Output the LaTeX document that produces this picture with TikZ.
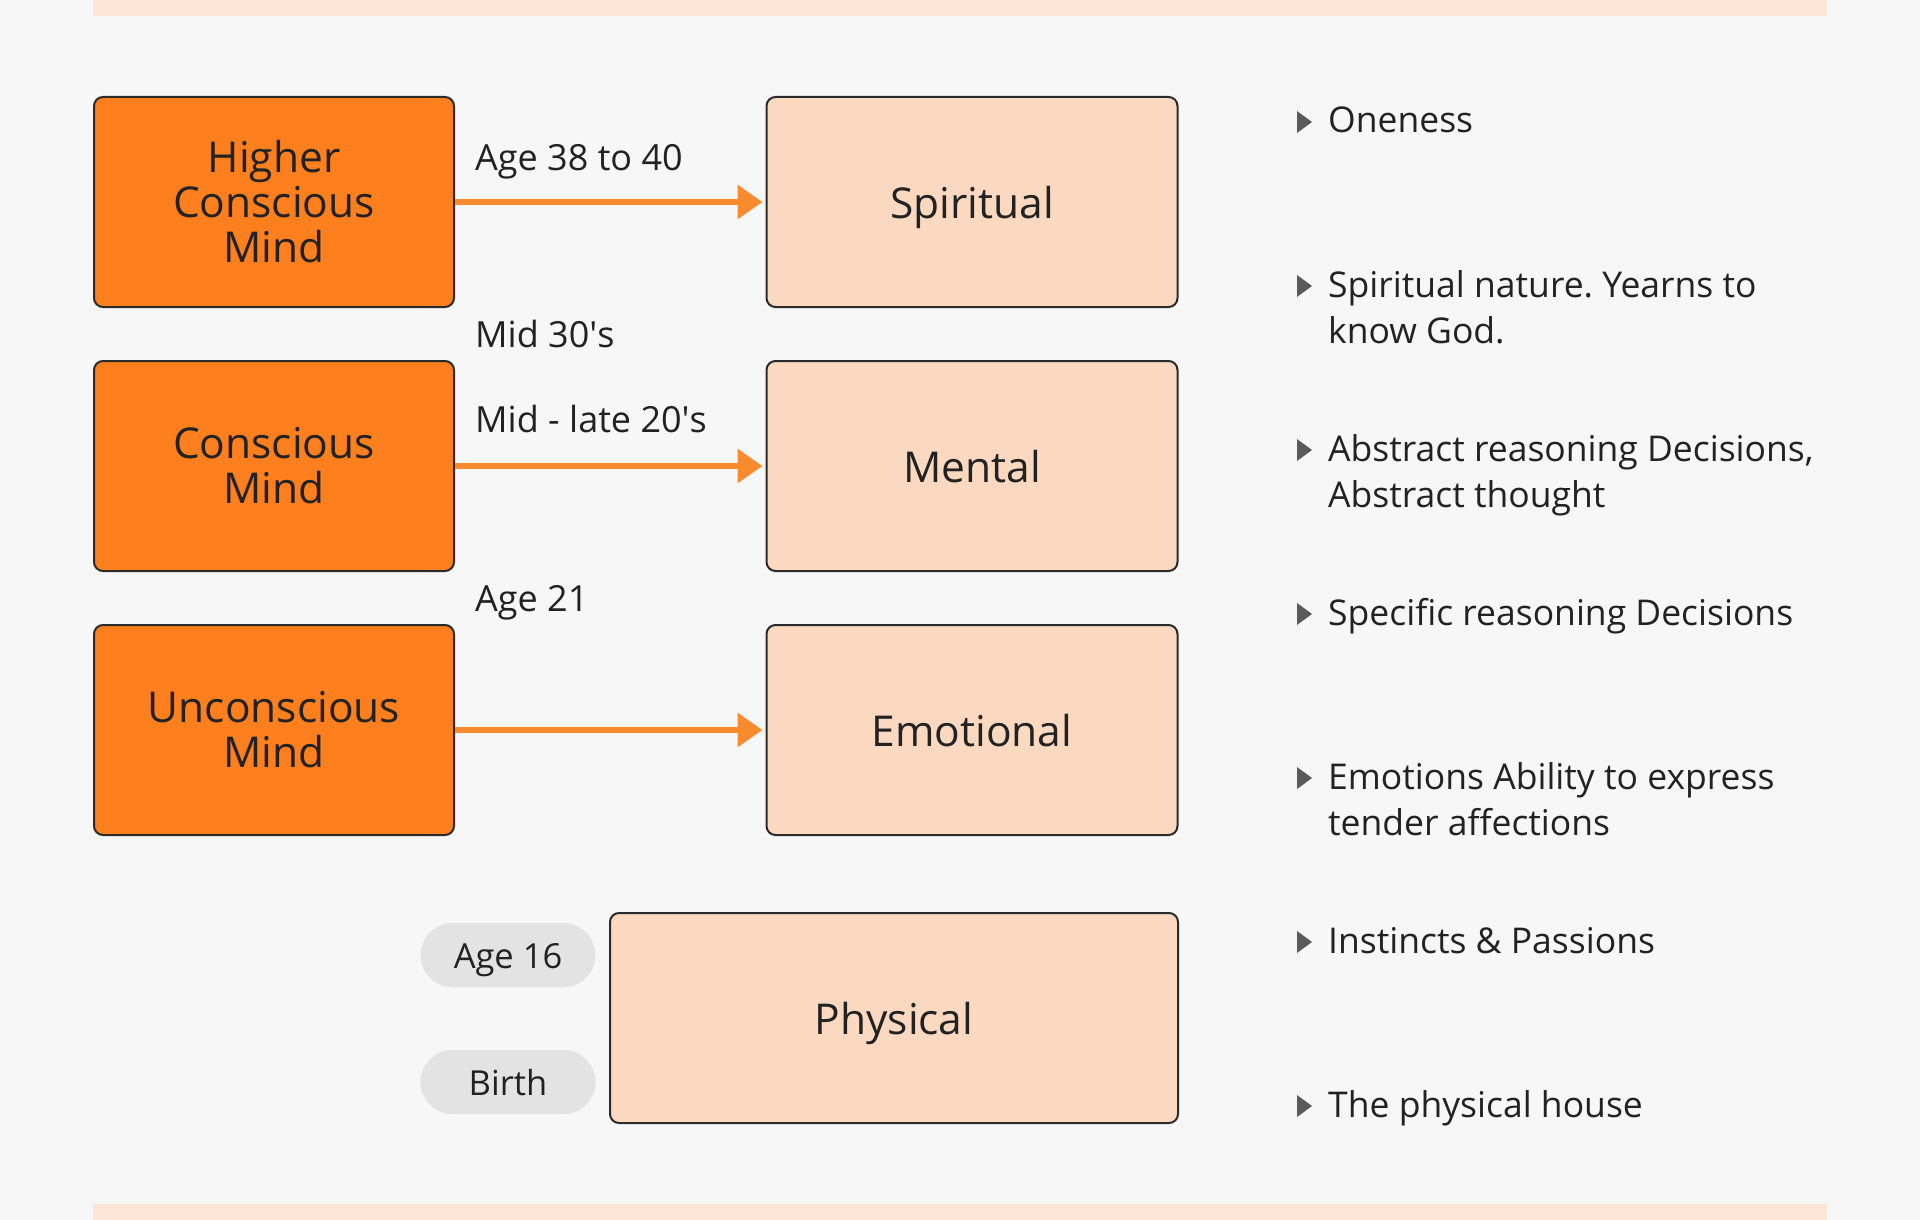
\documentclass[tikz,border=0pt]{standalone}
\usepackage{fontspec}
\setmainfont{Open Sans}
\usepackage{tikz}
\usetikzlibrary{arrows.meta,%
                shapes,positioning}
\definecolor{bgcol}{HTML}{F7F7F7}
\definecolor{bandcol}{HTML}{FDE6D6}
\definecolor{mindcol}{HTML}{FD7F1E}
\definecolor{planecol}{HTML}{FBD9C0}
\definecolor{edgecol}{HTML}{2B2B2B}
\definecolor{arrowcol}{HTML}{F98B2E}
\definecolor{pillcol}{HTML}{E3E3E3}
\definecolor{txtcol}{HTML}{222222}
\definecolor{bulletcol}{HTML}{5A5A5A}
\frenchspacing

\begin{document}
\begin{tikzpicture}[x=1pt,y=-1pt,
  mind/.style={draw=edgecol, line width=2pt, rounded corners=9pt, fill=mindcol,
    minimum width=360pt, minimum height=210pt, align=center, text=txtcol,
    font=\fontsize{42.5}{45}\selectfont},
  plane/.style={mind, fill=planecol, minimum width=411pt, text height=32pt, text depth=0pt},
  agelbl/.style={anchor=base west, inner sep=0pt, text=txtcol, font=\fontsize{36}{40}\selectfont},
  pill/.style={fill=pillcol, rounded corners=32pt, minimum width=175pt, minimum height=64pt,
    text height=26pt, text depth=0pt, text=txtcol, font=\fontsize{34.5}{40}\selectfont},
  ageflow/.style={draw=arrowcol, line width=6pt, shorten >=3pt,
    -{Triangle[length=25pt,width=33pt]}},
  note/.style={anchor=base west, align=left, inner sep=0pt, text=txtcol,
    font=\fontsize{35.5}{46}\selectfont}]
\useasboundingbox[fill=bgcol] (0,0) rectangle (1920,1220);
\fill[bandcol] (93,0) rectangle (1827,16);
\fill[bandcol] (93,1204) rectangle (1827,1220);
%minds
\node[mind] (hcm) at (274,202) {Higher\\Conscious\\Mind};
\node[mind] (cm) at (274,466) {Conscious\\Mind};
\node[mind] (ucm) at (274,730) {Unconscious\\Mind};
%planes
\node[plane] (spi) at (972,202) {Spiritual};
\node[plane] (men) at (972,466) {Mental};
\node[plane] (emo) at (972,730) {Emotional};
\node[plane, minimum width=568pt] (phy) at (894,1018) {Physical};
\draw[ageflow] (hcm) -- (spi);
\draw[ageflow] (cm) -- (men);
\draw[ageflow] (ucm) -- (emo);
\node[agelbl] (a38) at (475,171) {Age 38 to 40};
\node[agelbl] (a35) at (475,347) {Mid 30\textquotesingle s};
\node[agelbl] (a25) at (475,432) {Mid - late 20\textquotesingle s};
\node[agelbl] (a21) at (475,611) {Age 21};
\node[pill] (a16) at (508,955) {Age 16};
\node[pill] (birth) at (508,1082) {Birth};
\foreach \txt/\nl [count=\i from 0] in {Oneness/0,
    {Spiritual nature. Yearns to\\know God.}/1,
    {Abstract reasoning Decisions,\\Abstract thought}/1,
    Specific reasoning Decisions/0,
    {Emotions Ability to express\\tender affections}/1,
    Instincts \& Passions/0,
    The physical house/0}{
  \fill[bulletcol] (1297,{111+164*\i}) -- (1312,{122+164*\i}) -- (1297,{133+164*\i}) -- cycle;
  \node[note] (note\i) at (1328,{133+164*\i+46*\nl}) {\txt};
}
\end{tikzpicture}
\end{document}
